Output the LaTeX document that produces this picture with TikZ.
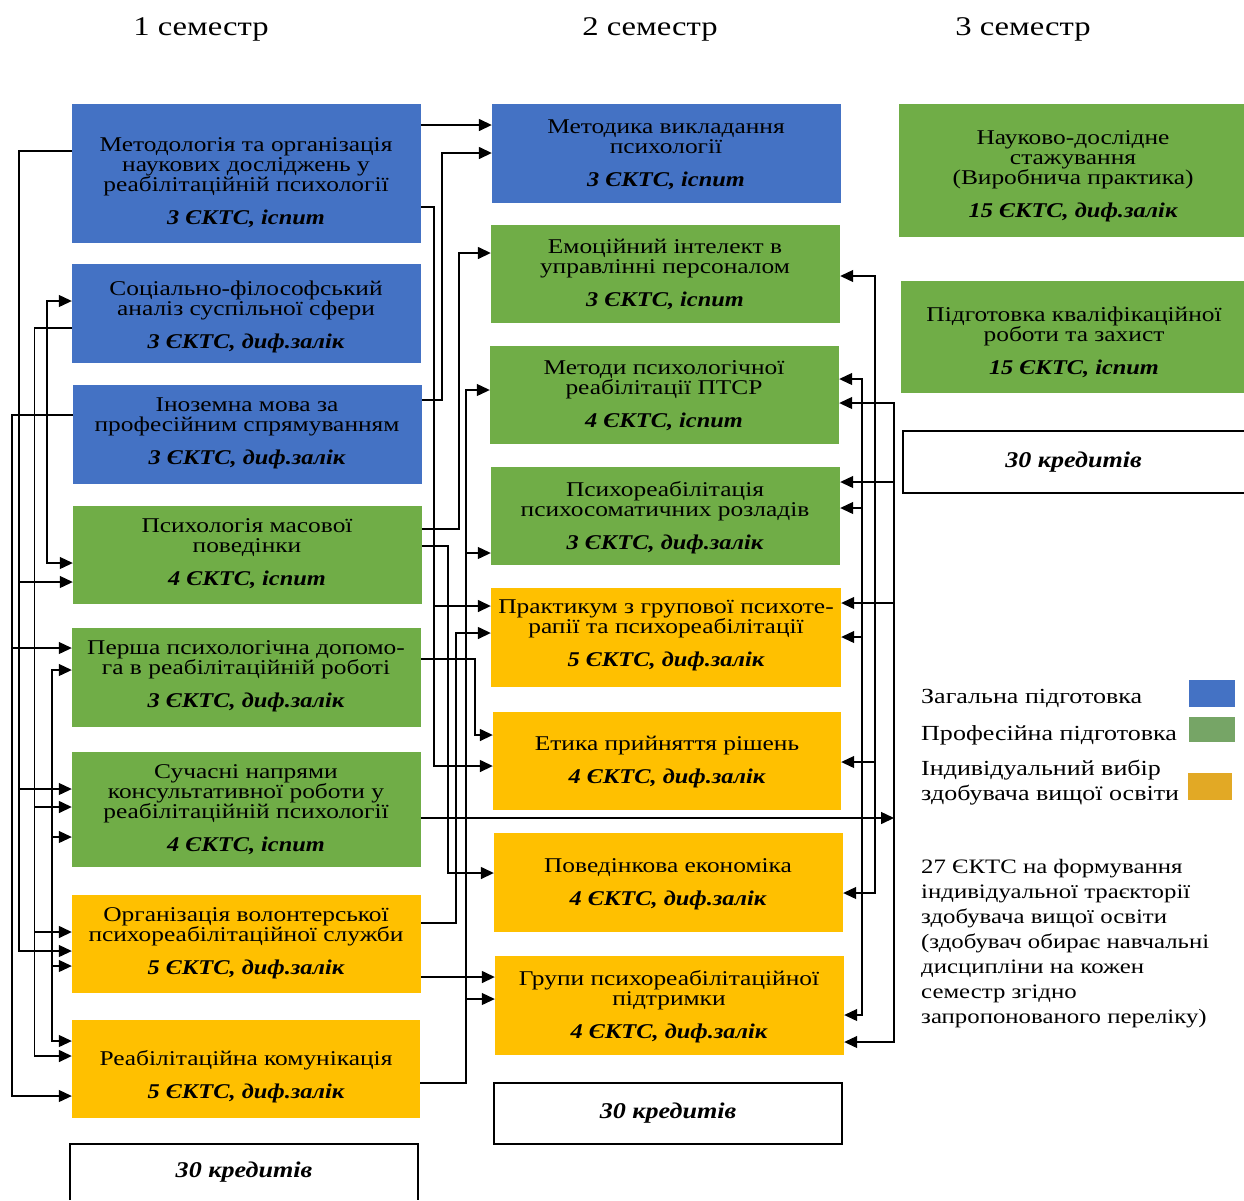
\documentclass[tikz,border=0pt]{standalone}
\usepackage{fontspec}
\setmainfont[FakeStretch=1.21, BoldItalicFeatures={FakeStretch=1.16}]{Liberation Serif}
\usetikzlibrary{arrows.meta}
\definecolor{cblue}{HTML}{4472C4}
\definecolor{cgreen}{HTML}{70AD47}
\definecolor{cgold}{HTML}{FFC000}
\definecolor{lblue}{HTML}{4472C4}
\definecolor{lgreen}{HTML}{76A566}
\definecolor{lgold}{HTML}{E2A925}
\newcommand\myBI[1]{{\bfseries\itshape #1}}
\begin{document}
\begin{tikzpicture}[x=1pt,y=-1pt,
  box/.style={fill=#1, draw=none, inner sep=0pt},
  txt/.style={align=center, inner sep=0pt, yshift=-2.5pt, font=\fontsize{21}{20}\selectfont},
  head/.style={inner sep=0pt, font=\fontsize{27}{30}\selectfont},
  credit/.style={inner sep=0pt, font=\fontsize{22.5}{20}\selectfont},
  frame/.style={draw=black, line width=1.6pt},
  arr/.style={-{Triangle[length=13pt,width=12pt]}, line width=1.5pt},
  tarr/.style={-{Triangle[length=13pt,width=12pt]}, line width=1.1pt},
  darr/.style={{Triangle[length=13pt,width=12pt]}-{Triangle[length=13pt,width=12pt]}, line width=1.1pt},
  legtxt/.style={inner sep=0pt, align=left, anchor=west, font=\fontsize{21.5}{25}\selectfont},
  notetxt/.style={inner sep=0pt, align=left, anchor=west, font=\fontsize{20.5}{25}\selectfont}
]
\useasboundingbox (0,0) rectangle (1244,1200);

% headers
\node[head] (h1) at (201,29) {1 семестр};
\node[head] (h2) at (650,29) {2 семестр};
\node[head] (h3) at (1023,29) {3 семестр};

% column 1 boxes
\node[box=cblue, minimum width=349, minimum height=139] (b1) at (246.5,173.5) {};
\node[box=cblue, minimum width=349, minimum height=99] (b2) at (246.5,313.5) {};
\node[box=cblue, minimum width=349, minimum height=99] (b3) at (247.5,434.5) {};
\node[box=cgreen, minimum width=349, minimum height=98] (b4) at (247.5,555) {};
\node[box=cgreen, minimum width=349, minimum height=99] (b5) at (246.5,677.5) {};
\node[box=cgreen, minimum width=349, minimum height=115] (b6) at (246.5,809.5) {};
\node[box=cgold, minimum width=349, minimum height=98] (b7) at (246.5,944) {};
\node[box=cgold, minimum width=348, minimum height=98] (b8) at (246,1069) {};

\node[txt] (b1t) at (246,180) {Методологія та організація\\наукових досліджень у\\реабілітаційній психології\\[13pt]\myBI{3 ЄКТС, іспит}};
\node[txt] (b2t) at (246,314.5) {Соціально-філософський\\аналіз суспільної сфери\\[13pt]\myBI{3 ЄКТС, диф.залік}};
\node[txt] (b3t) at (247,431) {Іноземна мова за\\професійним спрямуванням\\[13pt]\myBI{3 ЄКТС, диф.залік}};
\node[txt] (b4t) at (247,551) {Психологія масової\\поведінки\\[13pt]\myBI{4 ЄКТС, іспит}};
\node[txt] (b5t) at (246,673.5) {Перша психологічна допомо-\\га в реабілітаційній роботі\\[13pt]\myBI{3 ЄКТС, диф.залік}};
\node[txt] (b6t) at (246,807) {Сучасні напрями\\консультативної роботи у\\реабілітаційній психології\\[13pt]\myBI{4 ЄКТС, іспит}};
\node[txt] (b7t) at (246,940.5) {Організація волонтерської\\психореабілітаційної служби\\[13pt]\myBI{5 ЄКТС, диф.залік}};
\node[txt] (b8t) at (246,1074) {Реабілітаційна комунікація\\[13pt]\myBI{5 ЄКТС, диф.залік}};

\node[credit, minimum width=348, minimum height=56] (k1) at (244,1172) {\myBI{30 кредитів}};
\draw[frame] (k1.south west) -- (k1.north west) -- (k1.north east) -- (k1.south east);

% column 2 boxes
\node[box=cblue, minimum width=349, minimum height=99] (c1) at (666.5,153.5) {};
\node[box=cgreen, minimum width=349, minimum height=98] (c2) at (665.5,274) {};
\node[box=cgreen, minimum width=349, minimum height=98] (c3) at (664.5,395) {};
\node[box=cgreen, minimum width=349, minimum height=98] (c4) at (665.5,516) {};
\node[box=cgold, minimum width=350, minimum height=99] (c5) at (666,637.5) {};
\node[box=cgold, minimum width=348, minimum height=98] (c6) at (667,761) {};
\node[box=cgold, minimum width=349, minimum height=99] (c7) at (668.5,882.5) {};
\node[box=cgold, minimum width=349, minimum height=99] (c8) at (669.5,1005.5) {};

\node[txt] (c1t) at (666,152) {Методика викладання\\психології\\[13pt]\myBI{3 ЄКТС, іспит}};
\node[txt] (c2t) at (665,272) {Емоційний інтелект в\\управлінні персоналом\\[13pt]\myBI{3 ЄКТС, іспит}};
\node[txt] (c3t) at (664,393) {Методи психологічної\\реабілітації ПТСР\\[13pt]\myBI{4 ЄКТС, іспит}};
\node[txt] (c4t) at (665,515) {Психореабілітація\\психосоматичних розладів\\[13pt]\myBI{3 ЄКТС, диф.залік}};
\node[txt] (c5t) at (666,633) {Практикум з групової психоте-\\рапії та психореабілітації\\[13pt]\myBI{5 ЄКТС, диф.залік}};
\node[txt] (c6t) at (667,759.5) {Етика прийняття рішень\\[13pt]\myBI{4 ЄКТС, диф.залік}};
\node[txt] (c7t) at (668,881.5) {Поведінкова економіка\\[13pt]\myBI{4 ЄКТС, диф.залік}};
\node[txt] (c8t) at (669,1004.5) {Групи психореабілітаційної\\підтримки\\[13pt]\myBI{4 ЄКТС, диф.залік}};

\node[credit, draw=black, line width=1.6pt, minimum width=348, minimum height=61] (k2) at (668,1113.5) {\myBI{30 кредитів}};

% column 3
\node[box=cgreen, minimum width=345, minimum height=133] (d1) at (1071.5,170.5) {};
\node[box=cgreen, minimum width=343, minimum height=112] (d2) at (1072.5,337) {};
\node[txt] (d1t) at (1073,173.5) {Науково-дослідне\\стажування\\(Виробнича практика)\\[13pt]\myBI{15 ЄКТС, диф.залік}};
\node[txt] (d2t) at (1074,340) {Підготовка кваліфікаційної\\роботи та захист\\[13pt]\myBI{15 ЄКТС, іспит}};
\node[credit, minimum width=341, minimum height=62] (k3) at (1073.5,462) {\myBI{30 кредитів}};
\draw[frame] (k3.north east) -- (k3.north west) -- (k3.south west) -- (k3.south east);

% legend
\node[legtxt] (lg1) at (921,698) {Загальна підготовка};
\node[legtxt] (lg2) at (921,735) {Професійна підготовка};
\node[legtxt] (lg3) at (921,782.5) {Індивідуальний вибір\\здобувача вищої освіти};
\node[box=lblue, minimum width=46, minimum height=27] (sq1) at (1212,693.5) {};
\node[box=lgreen, minimum width=46, minimum height=25] (sq2) at (1212,729.5) {};
\node[box=lgold, minimum width=44, minimum height=27] (sq3) at (1210,786.5) {};
\node[notetxt] (note) at (921,944) {27 ЄКТС на формування\\індивідуальної траєкторії\\здобувача вищої освіти\\(здобувач обирає навчальні\\дисципліни на кожен\\семестр згідно\\запропонованого переліку)};

% ---- left connectors
% from b1 (x=19)
\draw[tarr] (b1.west|-0,151) -| (19,582) -- (b4.west|-0,582);
\draw[tarr] (b1.west|-0,151) -| (19,789) -- (b6.west|-0,789);
\draw[tarr] (b1.west|-0,151) -| (19,951) -- (b7.west|-0,951);
% from b3 (x=12)
\draw[tarr] (b3.west|-0,415) -| (12,648) -- (b5.west|-0,648);
\draw[tarr] (b3.west|-0,415) -| (12,1096) -- (b8.west|-0,1096);
% from b2 (x=34.5)
\draw[arr] (b2.west|-0,328) -| (34.5,807) -- (b6.west|-0,807);
\draw[arr] (b2.west|-0,328) -| (34.5,932) -- (b7.west|-0,932);
\draw[arr] (b2.west|-0,328) -| (34.5,1056) -- (b8.west|-0,1056);
% bus x=47
\draw[darr] (b2.west|-0,301) -| (47,563) -- (b4.west|-0,563);
% bus x=52
\coordinate (lb) at (52,670);
\draw[darr] (b5.west|-0,670) -| (52,1041) -- (b8.west|-0,1041);
\draw[tarr] (lb) |- (b6.west|-0,837);
\draw[tarr] (lb) |- (b7.west|-0,966);

% ---- middle connectors
\draw[arr] (b1.east|-0,125) -- (c1.west|-0,125);
\draw[arr] (b3.east|-0,400) -| (442,153) -- (c1.west|-0,153);
\draw[arr] (b1.east|-0,207) -| (434,606) -- (c5.west|-0,606);
\draw[arr] (b1.east|-0,207) -| (434,766) -- (c6.west|-0,766);
\draw[arr] (b4.east|-0,529) -| (459,253) -- (c2.west|-0,253);
\draw[tarr] (b8.east|-0,1083) -| (466,390) -- (c3.west|-0,390);
\draw[tarr] (b8.east|-0,1083) -| (466,553) -- (c4.west|-0,553);
\draw[tarr] (b8.east|-0,1083) -| (466,999) -- (c8.west|-0,999);
\draw[arr] (b4.east|-0,546) -| (448,873) -- (c7.west|-0,873);
\draw[arr] (b7.east|-0,923) -| (456,633) -- (c5.west|-0,633);
\draw[arr] (b5.east|-0,659) -| (475,735) -- (c6.west|-0,735);
\draw[arr] (b7.east|-0,977) -- (c8.west|-0,977);

% ---- right connectors
\coordinate (rb) at (894,818);
\draw[arr] (b6.east|-0,818) -- (rb);
\draw[tarr] (rb) |- (c3.east|-0,403);
\draw[tarr] (rb) |- (c4.east|-0,482);
\draw[tarr] (rb) |- (c5.east|-0,603);
\draw[tarr] (rb) |- (c8.east|-0,1042);
% bus x=875
\coordinate (rc) at (875,762);
\draw[darr] (c2.east|-0,276) -| (875,893) -- (c7.east|-0,893);
\draw[tarr] (rc) -- (c6.east|-0,762);
% bus x=862
\coordinate (rd) at (862,508);
\draw[darr] (c3.east|-0,379) -| (862,1015) -- (c8.east|-0,1015);
\draw[tarr] (rd) -- (c4.east|-0,508);
\draw[tarr] (rd) |- (c5.east|-0,637);
\end{tikzpicture}
\end{document}
